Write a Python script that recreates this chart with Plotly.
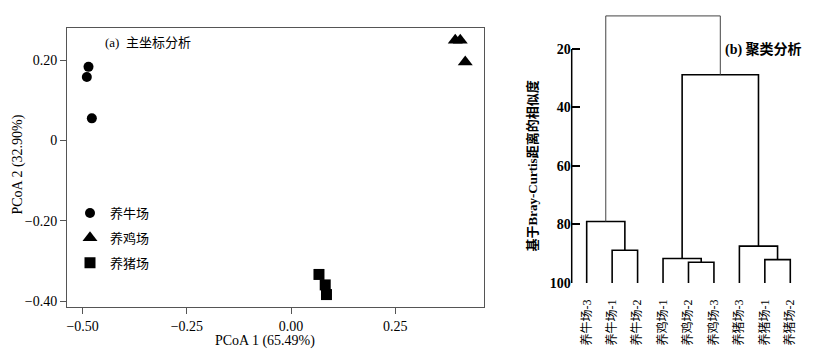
import plotly.graph_objects as go

# ---------------- data ----------------
group_names = ["养牛场", "养鸡场", "养猪场"]
group_symbols = ["circle", "triangle-up", "square"]
cattle_x = [-0.486, -0.490, -0.478]
cattle_y = [0.183, 0.158, 0.055]
chicken_x = [0.394, 0.406, 0.418]
chicken_y = [0.249, 0.249, 0.195]
pig_x = [0.067, 0.082, 0.085]
pig_y = [-0.333, -0.359, -0.383]

x_tickvals = [-0.5, -0.25, 0.0, 0.25]
x_ticktext = ["−0.50", "−0.25", "0.00", "0.25"]
y_tickvals = [0.2, 0.0, -0.2, -0.4]
y_ticktext = ["0.20", "0", "−0.20", "−0.40"]

leaf_labels = ["养牛场-3", "养牛场-1", "养牛场-2",
               "养鸡场-1", "养鸡场-2", "养鸡场-3",
               "养猪场-3", "养猪场-1", "养猪场-2"]
# merges: (child a, child b, similarity); new ids start at len(leaf_labels)
merge_a = [1, 0, 4, 3, 7, 6, 12, 10]
merge_b = [2, 9, 5, 11, 8, 13, 14, 15]
merge_h = [88.8, 79.0, 92.9, 91.6, 92.0, 87.4, 28.8, 8.7]
sim_tickvals = [20, 40, 60, 80, 100]

SERIF = "Liberation Serif, 'Noto Sans CJK SC', serif"
W, H = 814, 358

fig = go.Figure()

# ---------------- panel (a): PCoA ----------------
for name, sym, xs, ys, sz in zip(group_names, group_symbols,
                                 [cattle_x, chicken_x, pig_x],
                                 [cattle_y, chicken_y, pig_y],
                                 [10, 13, 11]):
    fig.add_trace(go.Scatter(
        x=xs, y=ys, mode="markers", name=name, legendgroup=name,
        marker=dict(symbol=sym, size=sz, color="black", line=dict(width=0)),
        xaxis="x", yaxis="y", cliponaxis=False))

# ---------------- panel (b): dendrogram ----------------
n = len(leaf_labels)
pos = {i: float(i) for i in range(n)}
hgt = {i: 100.0 for i in range(n)}
seg_x, seg_y = [], []
root_x, root_y = [], []
for k, (a, b, h) in enumerate(zip(merge_a, merge_b, merge_h)):
    xs = [pos[a], pos[a], pos[b], pos[b], None]
    ys = [hgt[a], h, h, hgt[b], None]
    if k == len(merge_h) - 1:
        root_x += xs
        root_y += ys
    else:
        seg_x += xs
        seg_y += ys
    pos[n + k] = (pos[a] + pos[b]) / 2
    hgt[n + k] = h

fig.add_trace(go.Scatter(x=seg_x, y=seg_y, mode="lines", showlegend=False,
                         line=dict(color="black", width=1.6),
                         xaxis="x2", yaxis="y2", cliponaxis=False,
                         hoverinfo="skip"))
fig.add_trace(go.Scatter(x=root_x, y=root_y, mode="lines", showlegend=False,
                         line=dict(color="#444", width=1),
                         xaxis="x2", yaxis="y2", cliponaxis=False,
                         hoverinfo="skip"))

frame = "#555"
fig.update_layout(
    width=W, height=H, autosize=False,
    margin=dict(l=0, r=0, t=0, b=0),
    paper_bgcolor="white", plot_bgcolor="white",
    font=dict(family=SERIF, size=14, color="black"),
    xaxis=dict(domain=[67 / W, 484 / W], range=[-0.5376, 0.463],
               tickvals=x_tickvals, ticktext=x_ticktext,
               ticks="outside", ticklen=6, tickcolor=frame,
               showline=True, mirror=True, linecolor=frame, linewidth=1,
               showgrid=False, zeroline=False, automargin=False,
               anchor="y", tickfont=dict(size=14)),
    yaxis=dict(domain=[1 - 307 / H, 1 - 28 / H], range=[-0.4139, 0.2796],
               tickvals=y_tickvals, ticktext=y_ticktext,
               ticks="outside", ticklen=6, tickcolor=frame,
               showline=True, mirror=True, linecolor=frame, linewidth=1,
               showgrid=False, zeroline=False, automargin=False,
               anchor="x", tickfont=dict(size=14)),
    xaxis2=dict(domain=[571.7 / W, 805 / W], range=[-0.589, 8.578],
                tickvals=list(range(n)), ticktext=leaf_labels,
                tickangle=-90, ticks="", showline=False, showgrid=False,
                zeroline=False, automargin=False, anchor="y2",
                ticklabelstandoff=13,
                tickfont=dict(size=12)),
    yaxis2=dict(domain=[1 - 283 / H, 1 - 12.4 / H], range=[100, 7.5],
                tickvals=sim_tickvals, ticktext=[f"<b>{v}</b>" for v in sim_tickvals],
                ticks="inside", ticklen=8, tickwidth=1.5, tickcolor="black",
                showline=False, showgrid=False, zeroline=False,
                automargin=False, anchor="x2", tickfont=dict(size=14)),
    legend=dict(x=70 / W, y=1 - 198 / H, xanchor="left", yanchor="top",
                bgcolor="rgba(0,0,0,0)", borderwidth=0, tracegroupgap=5,
                font=dict(size=13)),
    showlegend=True,
)

# axis line of the dendrogram scale (only spans 20..100)
fig.add_shape(type="line", xref="x2 domain", yref="y2",
              x0=0, x1=0, y0=sim_tickvals[0], y1=sim_tickvals[-1],
              line=dict(color="black", width=1.5))

fig.add_annotation(text="(a)  主坐标分析", x=103 / W, y=1 - 42 / H,
                   xref="paper", yref="paper", xanchor="left", yanchor="middle",
                   showarrow=False, font=dict(size=13))
fig.add_annotation(text="<b>(b) 聚类分析</b>", x=804 / W, y=1 - 49 / H,
                   xref="paper", yref="paper", xanchor="right", yanchor="middle",
                   showarrow=False, font=dict(size=14))
fig.add_annotation(text="PCoA 1 (65.49%)", x=265 / W, y=1 - 341 / H,
                   xref="paper", yref="paper", xanchor="center", yanchor="middle",
                   showarrow=False, font=dict(size=14))
fig.add_annotation(text="PCoA 2 (32.90%)", x=17 / W, y=1 - 164.5 / H,
                   xref="paper", yref="paper", xanchor="center", yanchor="middle",
                   textangle=-90, showarrow=False, font=dict(size=14))
fig.add_annotation(text="<b>基于Bray-Curtis距离的相似度</b>", x=532 / W, y=1 - 166.5 / H,
                   xref="paper", yref="paper", xanchor="center", yanchor="middle",
                   textangle=-90, showarrow=False, font=dict(size=13))

fig.write_html("out.html", config={"displayModeBar": False},
               post_script="document.body.style.margin='0';")
